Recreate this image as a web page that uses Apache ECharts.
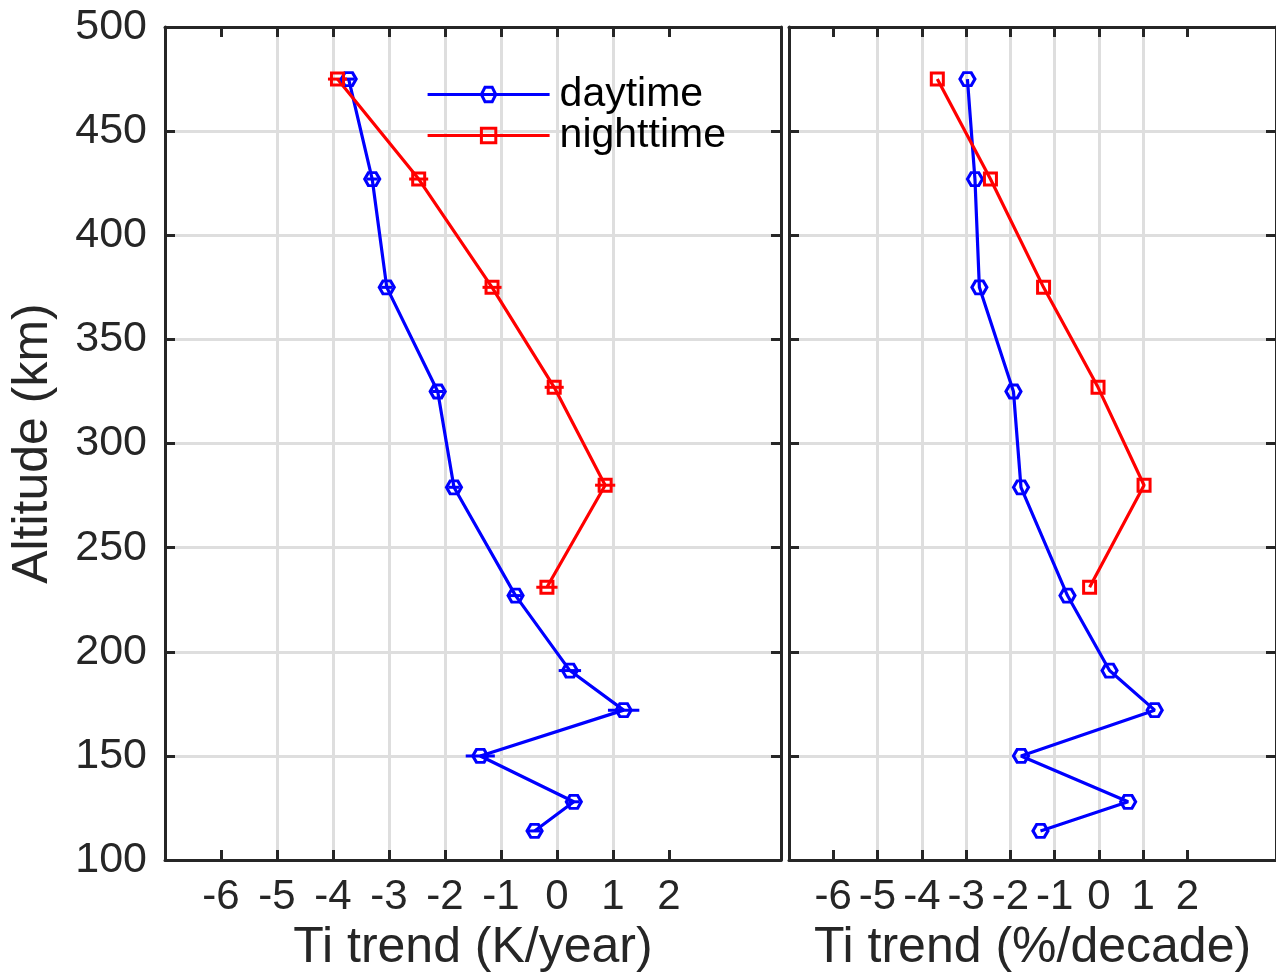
<!DOCTYPE html>
<html>
<head>
<meta charset="utf-8">
<script src="https://cdn.jsdelivr.net/npm/echarts@6/dist/echarts.min.js"></script>
<style>
html,body{margin:0;padding:0;background:#ffffff;}
#chart{width:1276px;height:978px;}
</style>
</head>
<body>
<div id="chart"></div>
<script>
// ---- data ----
const xTickValues = [-6, -5, -4, -3, -2, -1, 0, 1, 2];
const yTickLabels = [100, 150, 200, 250, 300, 350, 400, 450, 500];

const dayAlt   = [475, 427, 375, 325, 279, 227, 191, 172, 150, 128, 114];
const dayK     = [-3.72, -3.30, -3.04, -2.13, -1.84, -0.74, 0.23, 1.19, -1.37, 0.30, -0.40];
const dayKErr  = [0.10, 0.10, 0.10, 0.10, 0.10, 0.10, 0.20, 0.28, 0.26, 0.10, 0.10];
const dayPct   = [-2.97, -2.80, -2.70, -1.93, -1.76, -0.71, 0.24, 1.26, -1.76, 0.66, -1.32];

const nightAlt  = [475, 427, 375, 327, 280, 231];
const nightK    = [-3.92, -2.47, -1.16, -0.05, 0.86, -0.18];
const nightKErr = [0.17, 0.17, 0.17, 0.17, 0.18, 0.19];
const nightPct  = [-3.65, -2.45, -1.25, -0.02, 1.02, -0.21];

const seriesNames = ['daytime', 'nighttime'];
const xNames = ['Ti trend (K/year)', 'Ti trend (%/decade)'];
const yName = 'Altitude (km)';

// ---- styling ----
const FONT = '"Liberation Sans", Arial, Helvetica, sans-serif';
const AX = '#262626';
const GRIDC = '#dedede';
const BLUE = '#0000ff';
const RED = '#ff0000';
const hexPath = 'path://M-1,0 L-0.5,-0.866 L0.5,-0.866 L1,0 L0.5,0.866 L-0.5,0.866 Z';

const chart = echarts.init(document.getElementById('chart'), null, {renderer: 'canvas'});

function xAxisDef(gridIndex, position, withName) {
  return {
    type: 'value', gridIndex: gridIndex, position: position,
    min: -7, max: 4, interval: 1,
    name: withName ? xNames[gridIndex] : '',
    nameLocation: 'middle', nameGap: 58,
    nameTextStyle: {fontFamily: FONT, fontSize: 50, color: AX},
    axisLine: {show: true, onZero: false, lineStyle: {color: AX, width: 3}},
    axisTick: {show: true, inside: true, length: 10, customValues: xTickValues,
               lineStyle: {color: AX, width: 3}},
    axisLabel: {show: withName, customValues: xTickValues, margin: 16,
                fontFamily: FONT, fontSize: 42, color: AX},
    splitLine: {show: withName, customValues: xTickValues,
                showMinLine: false, showMaxLine: false,
                lineStyle: {color: GRIDC, width: 3}}
  };
}
function yAxisDef(gridIndex, position, labels, split) {
  return {
    type: 'value', gridIndex: gridIndex, position: position,
    min: 100, max: 500, interval: 50,
    name: labels ? yName : '',
    nameLocation: 'middle', nameGap: 107,
    nameTextStyle: {fontFamily: FONT, fontSize: 50, color: AX},
    axisLine: {show: true, onZero: false, lineStyle: {color: AX, width: 3}},
    axisTick: {show: true, inside: true, length: 10, lineStyle: {color: AX, width: 3}},
    axisLabel: {show: labels, margin: 18, fontFamily: FONT, fontSize: 43, color: AX,
                formatter: function (v) { return yTickLabels.indexOf(v) >= 0 ? String(v) : ''; }},
    splitLine: {show: split, showMinLine: false, showMaxLine: false,
                lineStyle: {color: GRIDC, width: 3}}
  };
}

function errRender(params, api) {
  const y = api.value(2);
  const p1 = api.coord([api.value(0), y]);
  const p2 = api.coord([api.value(1), y]);
  return {type: 'line', shape: {x1: p1[0], y1: p1[1], x2: p2[0], y2: p2[1]},
          style: {stroke: api.visual('color'), lineWidth: 3}};
}

function lineSeries(name, xs, alts, xi, yi, color, symbol, size) {
  return {
    type: 'line', name: name, xAxisIndex: xi, yAxisIndex: yi,
    data: alts.map(function (a, i) { return [xs[i], a]; }),
    symbol: symbol, symbolSize: size, showAllSymbol: true,
    lineStyle: {color: color, width: 3.2},
    itemStyle: {color: 'rgba(255,255,255,0)', borderColor: color, borderWidth: 3},
    emphasis: {disabled: true}, z: 3
  };
}
function errSeries(name, xs, errs, alts, xi, yi, color) {
  return {
    type: 'custom', name: name, xAxisIndex: xi, yAxisIndex: yi,
    data: alts.map(function (a, i) { return [xs[i] - errs[i], xs[i] + errs[i], a]; }),
    encode: {x: [0, 1], y: 2},
    renderItem: errRender, itemStyle: {color: color}, silent: true, z: 3
  };
}

const option = {
  animation: false,
  backgroundColor: '#ffffff',
  grid: [
    {left: 165, right: 495, top: 27, bottom: 114, containLabel: false},
    {left: 789, right: -6, top: 27, bottom: 114, containLabel: false}
  ],
  xAxis: [
    xAxisDef(0, 'bottom', true), xAxisDef(0, 'top', false),
    xAxisDef(1, 'bottom', true), xAxisDef(1, 'top', false)
  ],
  yAxis: [
    yAxisDef(0, 'left', true, true), yAxisDef(0, 'right', false, false),
    yAxisDef(1, 'left', false, true), yAxisDef(1, 'right', false, false)
  ],
  legend: {
    data: seriesNames, orient: 'vertical', left: 421, top: 69,
    itemWidth: 122, itemHeight: 18, itemGap: 0,
    lineStyle: {width: 3.2},
    itemStyle: {borderWidth: 3},
    textStyle: {fontFamily: FONT, fontSize: 41, color: '#000000', lineHeight: 41,
                padding: [0, 0, 0, 5]},
    selectedMode: false
  },
  series: [
    lineSeries(seriesNames[0], dayK, dayAlt, 0, 0, BLUE, hexPath, [15, 13]),
    lineSeries(seriesNames[1], nightK, nightAlt, 0, 0, RED, 'rect', 12),
    errSeries('dayErr', dayK, dayKErr, dayAlt, 0, 0, BLUE),
    errSeries('nightErr', nightK, nightKErr, nightAlt, 0, 0, RED),
    lineSeries(seriesNames[0], dayPct, dayAlt, 2, 2, BLUE, hexPath, [15, 13]),
    lineSeries(seriesNames[1], nightPct, nightAlt, 2, 2, RED, 'rect', 12)
  ]
};
chart.setOption(option);
</script>
</body>
</html>
